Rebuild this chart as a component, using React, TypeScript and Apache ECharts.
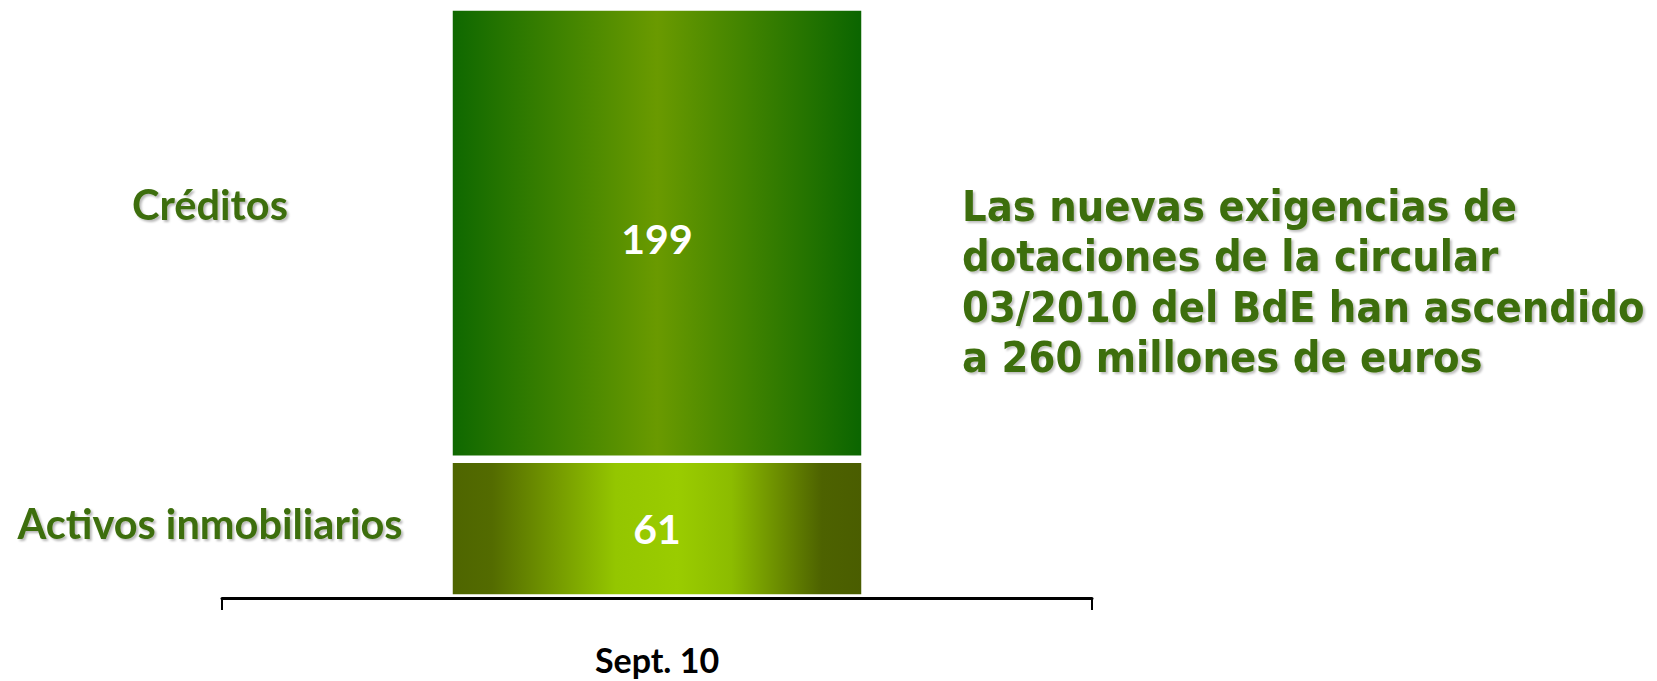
import React, { useEffect, useRef } from "react";
import * as echarts from "echarts";

const categories = ["Sept. 10"];
const seriesNames = ["Activos inmobiliarios", "Créditos"];
const activosValues = [61];
const creditosValues = [199];
const yMax = 260;
const noteLines = [
  "Las nuevas exigencias de",
  "dotaciones de la circular",
  "03/2010 del BdE han ascendido",
  "a 260 millones de euros",
];

const GREEN_TEXT = "#3C6E0A";

export default function App() {
  const ref = useRef<HTMLDivElement>(null);

  useEffect(() => {
    if (!ref.current) return;
    const chart = echarts.init(ref.current, undefined, { renderer: "svg" });

    const gradTop = new echarts.graphic.LinearGradient(0, 0, 1, 0, [
      { offset: 0, color: "#0E6800" },
      { offset: 0.5, color: "#6A9A00" },
      { offset: 1, color: "#0A6500" },
    ]);
    const gradBottom = new echarts.graphic.LinearGradient(0, 0, 1, 0, [
      { offset: 0, color: "#4E6500" },
      { offset: 0.1, color: "#536B00" },
      { offset: 0.4, color: "#94C600" },
      { offset: 0.55, color: "#9ACC00" },
      { offset: 0.68, color: "#8CBC00" },
      { offset: 0.9, color: "#4D6200" },
      { offset: 1, color: "#4A5D00" },
    ]);

    const labelBase = {
      show: true,
      position: "inside" as const,
      color: "#fff",
      fontSize: 41,
      fontWeight: "bold" as const,
      fontFamily: "Lato, 'Open Sans', sans-serif",
    };

    const sideTextStyle = {
      fill: GREEN_TEXT,
      fontSize: 41.5,
      fontWeight: "bold",
      fontFamily: "Lato, 'Open Sans', sans-serif",
      textAlign: "center",
      textVerticalAlign: "middle",
      textShadowColor: "rgba(0,0,0,0.28)",
      textShadowBlur: 2,
      textShadowOffsetX: 2,
      textShadowOffsetY: 2,
    };

    chart.setOption({
      animation: false,
      grid: { left: 222, right: 565, top: 7, bottom: 83 },
      xAxis: {
        type: "category",
        data: categories,
        z: 10,
        axisLine: { lineStyle: { color: "#000", width: 3 } },
        axisTick: { show: true, length: 12, lineStyle: { color: "#000", width: 2 } },
        axisLabel: {
          margin: 44,
          fontSize: 34,
          lineHeight: 34,
          fontWeight: "bold",
          fontFamily: "Lato, 'Open Sans', sans-serif",
          color: "#000",
        },
      },
      yAxis: { type: "value", min: 0, max: yMax, show: false },
      series: [
        {
          name: seriesNames[0],
          type: "bar",
          stack: "total",
          data: activosValues,
          barWidth: 416,
          itemStyle: { color: gradBottom, borderColor: "#fff", borderWidth: 3.75 },
          label: { ...labelBase },
        },
        {
          name: seriesNames[1],
          type: "bar",
          stack: "total",
          data: creditosValues,
          barWidth: 416,
          itemStyle: { color: gradTop, borderColor: "#fff", borderWidth: 3.75 },
          label: { ...labelBase, offset: [0, 5] },
        },
      ],
      graphic: [
        {
          type: "text",
          x: 210,
          y: 204,
          style: { ...sideTextStyle, text: seriesNames[1] },
        },
        {
          type: "text",
          x: 210,
          y: 523,
          style: { ...sideTextStyle, text: seriesNames[0] },
        },
        {
          type: "text",
          x: 962,
          y: 181,
          style: {
            text: noteLines.join("\n"),
            fill: GREEN_TEXT,
            fontSize: 43,
            fontWeight: "bold",
            fontFamily: "'DejaVu Sans Condensed', 'Liberation Sans Narrow', 'DejaVu Sans', sans-serif",
            lineHeight: 50.3,
            textAlign: "left",
            textVerticalAlign: "top",
            textShadowColor: "rgba(0,0,0,0.25)",
            textShadowBlur: 2,
            textShadowOffsetX: 2,
            textShadowOffsetY: 2,
          },
        },
      ],
    });

    return () => chart.dispose();
  }, []);

  return (
    <div
      ref={ref}
      style={{ position: "fixed", left: 0, top: 0, width: 1657, height: 681, background: "#fff" }}
    />
  );
}
